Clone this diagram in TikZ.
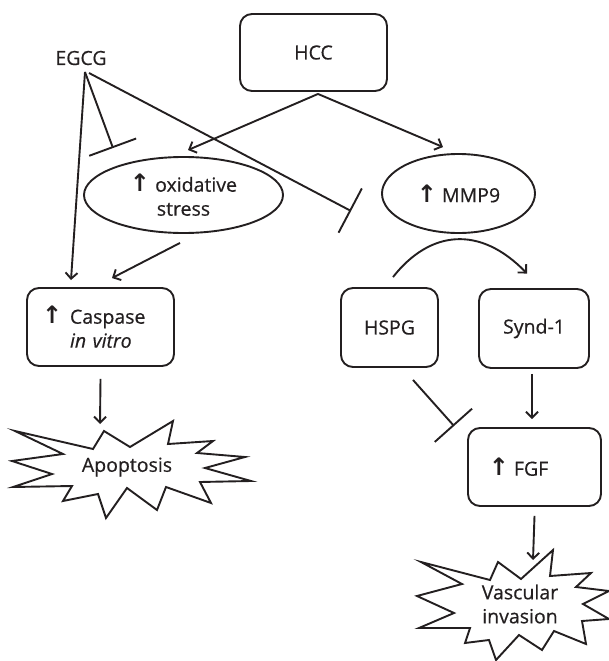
\documentclass[tikz,border=0pt]{standalone}
\usepackage{fontspec}
\setmainfont{Open Sans}[UprightFeatures={FakeBold=0.5},ItalicFeatures={FakeBold=0.5}]
\newfontfamily\arrfont{DejaVu Sans}
\usetikzlibrary{arrows.meta,shapes.geometric}
\definecolor{ink}{RGB}{35,31,32}
\newcommand{\upar}{{\arrfont\bfseries\fontsize{24}{24}\selectfont ↑}}
\begin{document}
\begin{tikzpicture}[x=1pt,y=-1pt, line width=1.9pt, color=ink,
  every node/.style={font=\fontsize{19.5}{24}\selectfont},
  box/.style={draw, rounded corners=12pt, inner sep=0pt},
  oval/.style={draw, ellipse, inner sep=0pt},
  arr/.style={-{Straight Barb[length=6pt,width=12pt]}},
  inh/.style={-{Bar[width=50pt]}},
  star/.style={draw, line join=miter}
]
\useasboundingbox (0,0) rectangle (609,661);

% nodes
\node (egcg) at (81,58) {EGCG};
\node[box, minimum width=147pt, minimum height=77pt] (hcc) at (313.5,52.5) {HCC};
\node[oval, minimum width=199pt, minimum height=76pt, align=center] (ox) at (183.5,195) {\upar\ oxidative\\stress};
\node[oval, minimum width=153pt, minimum height=79pt] (mmp) at (458.5,193.5) {\upar\ MMP9};
\node[box, minimum width=147pt, minimum height=78pt, text width=117pt, align=left, inner xsep=15pt] (casp) at (100.5,327)
  {\makebox[28pt][l]{\upar}Caspase\\\hspace*{28pt}\textit{in vitro}};
\node[box, minimum width=97pt, minimum height=79pt] (hspg) at (389.5,327.5) {HSPG};
\node[box, minimum width=110pt, minimum height=79pt] (synd) at (534,328.5) {Synd-1};
\node[box, minimum width=133pt, minimum height=78pt] (fgf) at (534.5,467) {\upar\ FGF\hspace*{32pt}};

% starbursts
\draw[star] (15,431) -- (93,449) -- (104,431) -- (130,447) -- (173,421) -- (168,444) -- (213,441) -- (197,453)
  -- (245,457) -- (205,468) -- (251,481) -- (200,482) -- (211,503) -- (166,487) -- (157,510) -- (127,488)
  -- (106,518) -- (98,494) -- (63,501) -- (72,486) -- (13,487) -- (52,474) -- (12,461) -- (63,454) -- cycle;
\node (apop) at (127,467) {Apoptosis};
\coordinate (apoptop) at (100,424);

\draw[star] (421,562) -- (490,580) -- (498,562) -- (521,579) -- (553,550) -- (550,576) -- (591,573) -- (576,587)
  -- (609,591) -- (583,604) -- (609,619) -- (582,621) -- (586,644) -- (554,631) -- (542,650) -- (519,635)
  -- (496,660) -- (489,640) -- (465,643) -- (470,628) -- (419,628) -- (454,613) -- (417,596) -- (462,584) -- cycle;
\node[align=center] (vasc) at (520,604) {Vascular\\invasion};
\coordinate (vasctop) at (533,560);

% connectors
\coordinate (e0) at (85,72);
\coordinate (e1) at (89,73);
\draw[arr] (e0) -- ([xshift=-29.5pt,yshift=7pt]casp.north);
\draw[inh] (e0) -- ([xshift=-70.5pt,yshift=8pt]ox.north);
\draw[inh] (e1) -- ([xshift=-30pt,yshift=-17.5pt]mmp.west);
\draw[arr] ([xshift=4.5pt,yshift=-2pt]hcc.south) -- ([xshift=4.5pt,yshift=6pt]ox.north);
\draw[arr] ([xshift=4.5pt,yshift=-2pt]hcc.south) -- ([xshift=-15.5pt,yshift=6pt]mmp.north);
\draw[arr] ([xshift=-3.5pt,yshift=-9pt]ox.south) -- ([xshift=11.5pt,yshift=9pt]casp.north);
\draw[arr] ([xshift=3.5pt,yshift=10pt]hspg.north) .. controls (430,230) and (480,225) .. ([xshift=-7pt,yshift=14.5pt]synd.north);
\draw[inh] ([xshift=23.5pt,yshift=-12pt]hspg.south) -- ([xshift=-13pt,yshift=41pt]fgf.west);
\draw[arr] ([xshift=-2pt,yshift=-5pt]synd.south) -- ([xshift=-2.5pt,yshift=8pt]fgf.north);
\draw[arr] ([yshift=-12pt]casp.south) -- (apoptop);
\draw[arr] ([yshift=-9pt]fgf.south) -- (vasctop);
\end{tikzpicture}
\end{document}
